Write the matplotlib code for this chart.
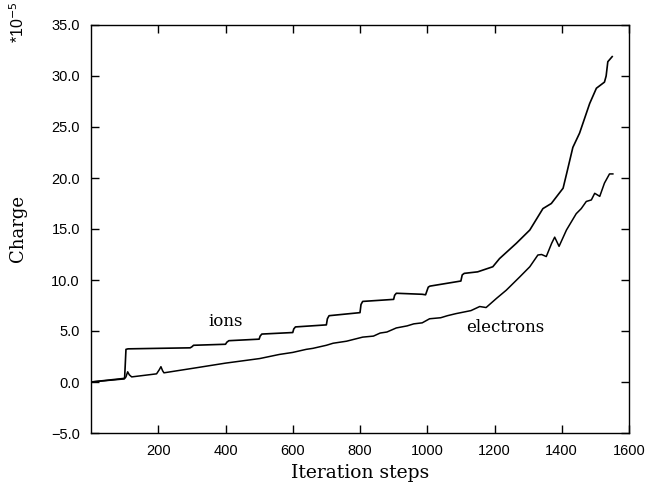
import matplotlib
matplotlib.use("Agg")
import matplotlib.pyplot as plt

ion_steps = [0, 98, 100, 104, 110, 200, 295, 300, 305, 400, 404, 410, 500, 503, 508,
             600, 603, 608, 700, 703, 708, 800, 803, 808, 900, 903, 908, 985, 995,
             1003, 1008, 1100, 1104, 1110, 1150, 1195, 1215, 1265, 1305, 1344, 1369,
             1404, 1415, 1433, 1453, 1483, 1503, 1527, 1532, 1537, 1550]
ion_charge = [0.0, 0.35, 0.4, 3.2, 3.25, 3.3, 3.35, 3.45, 3.6, 3.7, 3.9, 4.05, 4.2, 4.5, 4.7,
              4.85, 5.2, 5.4, 5.6, 6.2, 6.5, 6.8, 7.6, 7.9, 8.1, 8.5, 8.7, 8.6, 8.55,
              9.3, 9.4, 9.9, 10.5, 10.65, 10.8, 11.3, 12.1, 13.6, 14.9, 17.0, 17.5,
              19.0, 20.5, 23.0, 24.4, 27.3, 28.8, 29.4, 30.0, 31.4, 31.9]

el_steps = [0, 99, 104, 109, 114, 121, 195, 203, 208, 213, 217, 314, 400, 502, 560, 600,
            640, 660, 700, 720, 760, 808, 840, 860, 880, 908, 940, 960, 985, 1007, 1040,
            1060, 1085, 1100, 1130, 1156, 1175, 1206, 1235, 1275, 1305,
            1329, 1340, 1354, 1370, 1379, 1392, 1414, 1443, 1458, 1473, 1488, 1498, 1513,
            1527, 1542, 1552]
el_charge = [0.0, 0.3, 0.5, 1.0, 0.7, 0.5, 0.8, 1.2, 1.5, 1.1, 0.9, 1.4, 1.85, 2.3, 2.7, 2.9,
             3.2, 3.3, 3.6, 3.8, 4.0, 4.4, 4.5, 4.8, 4.9, 5.3, 5.5, 5.7, 5.8, 6.2, 6.3,
             6.5, 6.7, 6.8, 7.0, 7.4, 7.3, 8.2, 9.0, 10.3, 11.3,
             12.45, 12.5, 12.3, 13.6, 14.2, 13.3, 14.9, 16.5, 17.0, 17.7, 17.85, 18.5, 18.2,
             19.5, 20.4, 20.4]

x_ticks = [200, 400, 600, 800, 1000, 1200, 1400, 1600]
y_ticks = [-5, 0, 5, 10, 15, 20, 25, 30, 35]

fig = plt.figure(figsize=(6.47, 4.86), dpi=100)
ax = fig.add_axes([91/647, 1-433/486, (629-91)/647, (433-25)/486])

ax.plot(ion_steps, ion_charge, color="black", lw=1.2)
ax.plot(el_steps, el_charge, color="black", lw=1.1)

ax.set_xlim(0, 1600)
ax.set_ylim(-5, 35)
ax.set_xticks(x_ticks)
ax.set_yticks(y_ticks)
ax.set_xticklabels([str(v) for v in x_ticks], fontfamily="Liberation Sans", fontsize=10.5)
ax.set_yticklabels([f"{v:.1f}".replace("-", "\u2212") for v in y_ticks],
                   fontfamily="Liberation Sans", fontsize=10.5)
ax.tick_params(direction="in", length=6, width=1, top=True, right=True, pad=8)
for s in ax.spines.values():
    s.set_linewidth(1.0)

ax.set_xlabel("Iteration steps", fontfamily="DejaVu Serif", fontsize=13.5, labelpad=4)
ax.set_ylabel("Charge", fontfamily="DejaVu Serif", fontsize=13, labelpad=17)

ax.text(400, 5.9, "ions", fontfamily="DejaVu Serif", fontsize=12, ha="center", va="center")
ax.text(1232, 5.3, "electrons", fontfamily="DejaVu Serif", fontsize=12, ha="center", va="center")

fig.text(18/647, 1-22/486, r"*10$^{-5}$", rotation=90, fontfamily="Liberation Sans",
         fontsize=11.5, ha="center", va="center")

fig.savefig("out.png", dpi=100)
